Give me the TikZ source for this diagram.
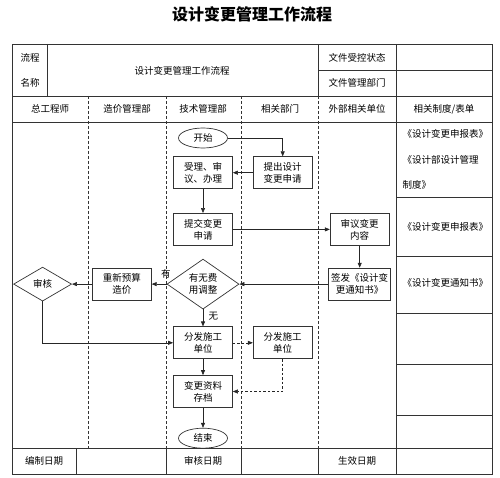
\documentclass[tikz,border=0pt]{standalone}
\usepackage{fontspec}
\setmainfont{Noto Sans CJK SC}
\usetikzlibrary{positioning, shapes.geometric, arrows.meta}

\begin{document}
\begin{tikzpicture}[
        x=1pt, y=-1pt,
        font=\fontsize{9.5}{12}\selectfont,
        frame/.style={draw=black!80, line width=0.8pt},
        lane/.style={draw=black!80, line width=0.6pt, dash pattern=on 3pt off 2pt},
        process/.style={rectangle, draw=black!80, line width=0.7pt, minimum width=59pt, minimum height=32pt, inner sep=1pt, align=center},
        terminal/.style={ellipse, draw=black!80, line width=0.7pt, minimum width=49pt, minimum height=20pt, inner sep=0pt},
        decision/.style={diamond, draw=black!80, line width=0.7pt, aspect=1.4, minimum width=72pt, minimum height=50pt, inner sep=0pt, align=center},
        arrow/.style={-{Triangle[length=5pt, width=4pt]}, line width=0.6pt, draw=black!85},
        dasharrow/.style={arrow, dash pattern=on 2.5pt off 2pt}
    ]
    \useasboundingbox (0,0) rectangle (500,478);

    \node (title) at (252,14) {\fontsize{16}{16}\selectfont\bfseries 设计变更管理工作流程};

    % table
    \draw[frame] (12,44) rectangle (492,474);
    \draw[frame] (12,96) -- (492,96);
    \draw[frame] (12,122) -- (492,122);
    \draw[frame] (12,448) -- (492,448);
    \draw[frame] (318,70) -- (492,70);
    \foreach \x in {47,318,396} \draw[frame] (\x,44) -- (\x,96);
    \draw[frame] (396,96) -- (396,448);
    \foreach \x in {76,166,241,318,396} \draw[frame] (\x,448) -- (\x,474);
    \foreach \y in {197,256,313,364,415} \draw[frame] (396,\y) -- (492,\y);
    \foreach \x in {88,166,241,318} \draw[lane] (\x,96) -- (\x,448);

    \node (hflow) at (30,58) {流程};
    \node (hname) at (30,83) {名称};
    \node (hproc) at (182,71) {设计变更管理工作流程};
    \node (hstate) at (357,58) {文件受控状态};
    \node (hdept) at (357,83) {文件管理部门};

    \node (laneA) at (50,109) {总工程师};
    \node (laneB) at (127,109) {造价管理部};
    \node (laneC) at (203,109) {技术管理部};
    \node (laneD) at (280,109) {相关部门};
    \node (laneE) at (357,109) {外部相关单位};
    \node (laneF) at (444,109) {相关制度/表单};

    \node (formA) [anchor=west, align=left, font=\fontsize{9.5}{25.5}\selectfont] at (399,159.5) {《设计变更申报表》\\《设计部设计管理\\制度》};
    \node (formB) [anchor=west] at (399,227) {《设计变更申报表》};
    \node (formC) [anchor=west] at (399,283) {《设计变更通知书》};

    \node (fdraft) at (44,461) {编制日期};
    \node (faudit) at (203,461) {审核日期};
    \node (fvalid) at (357,461) {生效日期};

    % flow
    \node (start) [terminal] at (203,138) {开始};
    \node (accept) [process, below=8pt of start] {受理、审\\议、办理};
    \node (propose) [process, right=20pt of accept] {提出设计\\变更申请};
    \node (submit) [process, below=24pt of accept] {提交变更\\申请};
    \node (review) [process, right=97pt of submit] {审议变更\\内容};
    \node (decide) [decision, below=13pt of submit] {有无费\\用调整};
    \node (issue) [process, minimum width=62pt] at (review |- decide) {签发《设计变\\更通知书》};
    \node (reprice) [process, left=15pt of decide] {重新预算\\造价};
    \node (audit) [decision, minimum width=58pt, minimum height=34pt, left=20pt of reprice] {审核};
    \node (distrib) [process, below=17pt of decide] {分发施工\\单位};
    \node (distribB) [process, right=20pt of distrib] {分发施工\\单位};
    \node (archive) [process, below=16pt of distrib] {变更资料\\存档};
    \node (end) [terminal, below=20pt of archive] {结束};

    \draw [arrow] (start.east) -| (propose.north);
    \draw [arrow] (propose) -- (accept);
    \draw [arrow] (accept) -- (submit);
    \draw [arrow] (submit) -- (review);
    \draw [arrow] (review) -- (issue);
    \draw [arrow] (issue) -- (decide);
    \draw [arrow] (decide) -- node[pos=0.05, above=2pt] {有} (reprice);
    \draw [arrow] (reprice) -- (audit);
    \draw [arrow] (audit.south) |- (distrib.west);
    \draw [arrow] (decide) -- node[right=2pt, pos=0.4] {无} (distrib);
    \draw [dasharrow] (distrib) -- (distribB);
    \draw [dasharrow] (distribB.south) |- (archive.east);
    \draw [arrow] (distrib) -- (archive);
    \draw [arrow] (archive) -- (end);

\end{tikzpicture}
\end{document}
